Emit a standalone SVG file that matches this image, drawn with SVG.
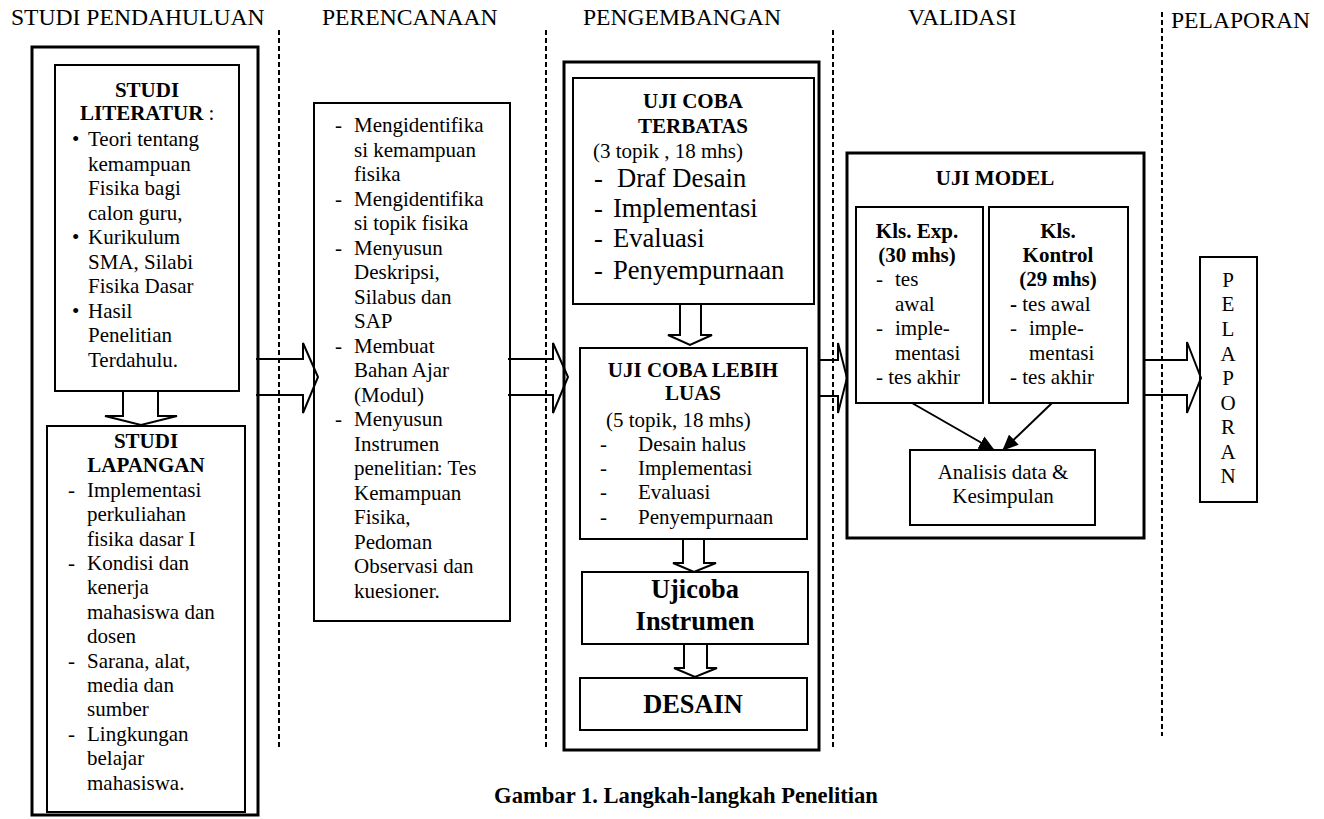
<svg xmlns="http://www.w3.org/2000/svg" width="1324" height="819" viewBox="0 0 1324 819">
<style>
text{font-family:"Liberation Serif","Times New Roman",serif;fill:#000}
.h{font-size:23.6px}
.t{font-size:21px}
.b{font-size:21px;font-weight:bold}
.big{font-size:26.6px}
.bb{font-size:26.4px;font-weight:bold}
.c{text-anchor:middle}
.box{fill:#fff;stroke:#000;stroke-width:2}
.obox{fill:none;stroke:#000;stroke-width:3}
.sep{stroke:#000;stroke-width:2;stroke-dasharray:5 3;fill:none}
.ar{fill:none;stroke:#000;stroke-width:2;stroke-linejoin:miter}
.ln{stroke:#000;stroke-width:2;fill:none}
</style>
<defs>
<marker id="tri" viewBox="0 0 10 10" refX="9" refY="5" markerWidth="8" markerHeight="8" orient="auto" markerUnits="userSpaceOnUse">
<path d="M0,0 L10,5 L0,10 z" fill="#000"/>
</marker>
<marker id="tri2" viewBox="0 0 16 14" refX="15" refY="7" markerWidth="16" markerHeight="14" orient="auto" markerUnits="userSpaceOnUse">
<path d="M0,0 L16,7 L0,14 z" fill="#000"/>
</marker>
</defs>
<rect width="1324" height="819" fill="#fff"/>

<g id="separators">
<line class="sep" x1="279" y1="30" x2="279" y2="750"/>
<line class="sep" x1="546" y1="30" x2="546" y2="750"/>
<line class="sep" x1="833" y1="30" x2="833" y2="750"/>
<line class="sep" x1="1162" y1="12" x2="1162" y2="736"/>
</g>

<g id="headers">
<text class="h" x="11" y="25">STUDI PENDAHULUAN</text>
<text class="h" x="322" y="25">PERENCANAAN</text>
<text class="h" x="583" y="25">PENGEMBANGAN</text>
<text class="h" x="908" y="25">VALIDASI</text>
<text class="h" x="1171" y="28">PELAPORAN</text>
</g>

<g id="studi-pendahuluan">
<rect class="obox" x="32" y="47" width="226" height="768"/>
<g id="studi-literatur">
<rect class="box" x="55" y="65" width="184" height="326"/>
<text class="b c" x="147" y="97">STUDI</text>
<text class="t" x="80" y="120"><tspan font-weight="bold">LITERATUR</tspan> :</text>
<text class="t" x="72" y="146">•</text>
<text class="t" x="88" y="146">Teori tentang</text>
<text class="t" x="88" y="171">kemampuan</text>
<text class="t" x="88" y="195">Fisika bagi</text>
<text class="t" x="88" y="220">calon guru,</text>
<text class="t" x="72" y="244">•</text>
<text class="t" x="88" y="244">Kurikulum</text>
<text class="t" x="88" y="269">SMA, Silabi</text>
<text class="t" x="88" y="293">Fisika Dasar</text>
<text class="t" x="72" y="318">•</text>
<text class="t" x="88" y="318">Hasil</text>
<text class="t" x="88" y="342">Penelitian</text>
<text class="t" x="88" y="367">Terdahulu.</text>
</g>
<g id="studi-lapangan">
<rect class="box" x="47" y="426" width="198" height="386"/>
<text class="b c" x="146" y="448">STUDI</text>
<text class="b c" x="146" y="472">LAPANGAN</text>
<text class="t" x="68" y="497">-</text>
<text class="t" x="87" y="497">Implementasi</text>
<text class="t" x="87" y="521">perkuliahan</text>
<text class="t" x="87" y="546">fisika dasar I</text>
<text class="t" x="68" y="570">-</text>
<text class="t" x="87" y="570">Kondisi dan</text>
<text class="t" x="87" y="594">kenerja</text>
<text class="t" x="87" y="619">mahasiswa dan</text>
<text class="t" x="87" y="643">dosen</text>
<text class="t" x="68" y="668">-</text>
<text class="t" x="87" y="668">Sarana, alat,</text>
<text class="t" x="87" y="692">media dan</text>
<text class="t" x="87" y="716">sumber</text>
<text class="t" x="68" y="741">-</text>
<text class="t" x="87" y="741">Lingkungan</text>
<text class="t" x="87" y="765">belajar</text>
<text class="t" x="87" y="790">mahasiswa.</text>
</g>
</g>

<g id="perencanaan">
<rect class="box" x="314" y="103" width="196" height="518" stroke-width="2.5"/>
<text class="t" x="335" y="132">-</text>
<text class="t" x="354" y="132">Mengidentifika</text>
<text class="t" x="354" y="157">si kemampuan</text>
<text class="t" x="354" y="181">fisika</text>
<text class="t" x="335" y="206">-</text>
<text class="t" x="354" y="206">Mengidentifika</text>
<text class="t" x="354" y="230">si topik fisika</text>
<text class="t" x="335" y="255">-</text>
<text class="t" x="354" y="255">Menyusun</text>
<text class="t" x="354" y="279">Deskripsi,</text>
<text class="t" x="354" y="304">Silabus dan</text>
<text class="t" x="354" y="328">SAP</text>
<text class="t" x="335" y="353">-</text>
<text class="t" x="354" y="353">Membuat</text>
<text class="t" x="354" y="377">Bahan Ajar</text>
<text class="t" x="354" y="402">(Modul)</text>
<text class="t" x="335" y="426">-</text>
<text class="t" x="354" y="426">Menyusun</text>
<text class="t" x="354" y="451">Instrumen</text>
<text class="t" x="354" y="475">penelitian: Tes</text>
<text class="t" x="354" y="500">Kemampuan</text>
<text class="t" x="354" y="524">Fisika,</text>
<text class="t" x="354" y="549">Pedoman</text>
<text class="t" x="354" y="573">Observasi dan</text>
<text class="t" x="354" y="598">kuesioner.</text>
</g>

<g id="pengembangan">
<rect class="obox" x="564" y="62" width="255" height="688"/>
<g id="uji-coba-terbatas">
<rect class="box" x="573" y="78" width="241" height="226"/>
<text class="b c" x="693" y="108">UJI COBA</text>
<text class="b c" x="693" y="133">TERBATAS</text>
<text class="t" x="593" y="158">(3 topik , 18 mhs)</text>
<text class="big" x="594" y="187">-</text>
<text class="big" x="617" y="187">Draf Desain</text>
<text class="big" x="594" y="217">-</text>
<text class="big" x="613" y="217">Implementasi</text>
<text class="big" x="594" y="247">-</text>
<text class="big" x="613" y="247">Evaluasi</text>
<text class="big" x="594" y="279">-</text>
<text class="big" x="613" y="279">Penyempurnaan</text>
</g>
<g id="uji-coba-luas">
<rect class="box" x="580" y="348" width="227" height="191"/>
<text class="b c" x="693" y="377">UJI COBA LEBIH</text>
<text class="b c" x="693" y="400">LUAS</text>
<text class="t" x="606" y="427">(5 topik, 18 mhs)</text>
<text class="t" x="600" y="451">-</text>
<text class="t" x="638" y="451">Desain halus</text>
<text class="t" x="600" y="475">-</text>
<text class="t" x="638" y="475">Implementasi</text>
<text class="t" x="600" y="499">-</text>
<text class="t" x="638" y="499">Evaluasi</text>
<text class="t" x="600" y="524">-</text>
<text class="t" x="638" y="524">Penyempurnaan</text>
</g>
<g id="ujicoba-instrumen">
<rect class="box" x="582" y="572" width="226" height="72"/>
<text class="bb c" x="695" y="598">Ujicoba</text>
<text class="bb c" x="695" y="630">Instrumen</text>
</g>
<g id="desain">
<rect class="box" x="580" y="678" width="227" height="52"/>
<text class="bb c" x="693" y="713">DESAIN</text>
</g>
</g>

<g id="validasi">
<rect class="obox" x="847" y="153" width="297" height="385"/>
<text class="b c" x="995" y="185">UJI MODEL</text>
<g id="kls-exp">
<rect class="box" x="856" y="207" width="127" height="196"/>
<text class="b c" x="917" y="238">Kls. Exp.</text>
<text class="b c" x="917" y="262">(30 mhs)</text>
<text class="t" x="876" y="286">-</text>
<text class="t" x="895" y="286">tes</text>
<text class="t" x="895" y="311">awal</text>
<text class="t" x="876" y="335">-</text>
<text class="t" x="895" y="335">imple-</text>
<text class="t" x="895" y="360">mentasi</text>
<text class="t" x="876" y="384">- tes akhir</text>
</g>
<g id="kls-kontrol">
<rect class="box" x="989" y="207" width="139" height="196"/>
<text class="b c" x="1058" y="238">Kls.</text>
<text class="b c" x="1058" y="262">Kontrol</text>
<text class="b c" x="1058" y="286">(29 mhs)</text>
<text class="t" x="1010" y="311"><tspan font-weight="bold">-</tspan> tes awal</text>
<text class="t" x="1010" y="335">-</text>
<text class="t" x="1029" y="335">imple-</text>
<text class="t" x="1029" y="360">mentasi</text>
<text class="t" x="1010" y="384">- tes akhir</text>
</g>
<g id="analisis">
<rect class="box" x="910" y="450" width="185" height="75"/>
<text class="t c" x="1003" y="479">Analisis data &amp;</text>
<text class="t c" x="1003" y="503">Kesimpulan</text>
</g>
</g>

<g id="pelaporan">
<rect class="box" x="1200" y="257" width="57" height="245" stroke-width="2.5"/>
<text class="t c" x="1228" y="287">P</text>
<text class="t c" x="1228" y="311">E</text>
<text class="t c" x="1228" y="336">L</text>
<text class="t c" x="1228" y="361">A</text>
<text class="t c" x="1228" y="385">P</text>
<text class="t c" x="1228" y="410">O</text>
<text class="t c" x="1228" y="434">R</text>
<text class="t c" x="1228" y="459">A</text>
<text class="t c" x="1228" y="483">N</text>
</g>

<g id="connectors">
<polyline class="ar" points="256,359 303,359 303,343 318,377 303,413 303,395 256,395"/>
<polyline class="ar" points="508,359 553,359 553,343 568,377 553,413 553,395 508,395"/>
<polyline class="ar" points="819,360 838,360 838,343 847,378 838,413 838,396 819,396"/>
<polyline class="ar" points="1144,360 1187,360 1187,342 1201,378 1187,413 1187,395 1144,395"/>
<polyline class="ar" points="123,391 123,416 105,416 141,425 177,416 158,416 158,391"/>
<polyline class="ar" points="680,304 680,335 668,335 690,345 712,335 701,335 701,304"/>
<polyline class="ar" points="683,539 683,563 673,563 694,572 716,563 704,563 704,539"/>
<polyline class="ar" points="684,644 684,668 674,668 695,677 717,668 707,668 707,644"/>
<line class="ln" x1="912" y1="403" x2="994" y2="450" marker-end="url(#tri2)"/>
<line class="ln" x1="1052" y1="403" x2="1003" y2="450" marker-end="url(#tri2)"/>
</g>

<text class="c" x="686" y="803" font-size="22.6" font-weight="bold">Gambar 1. Langkah-langkah Penelitian</text>
</svg>
